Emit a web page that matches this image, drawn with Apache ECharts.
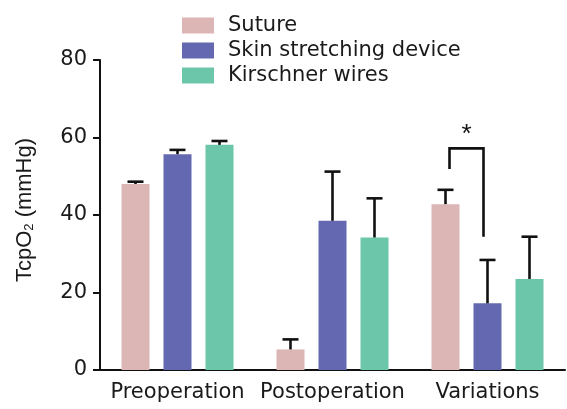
<!DOCTYPE html>
<html>
<head>
<meta charset="utf-8">
<script src="https://cdn.jsdelivr.net/npm/echarts@6/dist/echarts.min.js"></script>
<style>
html,body{margin:0;padding:0;background:#fff;}
#c{width:567px;height:409px;}
</style>
</head>
<body>
<div id="c"></div>
<script>
var categories = ['Preoperation', 'Postoperation', 'Variations'];
var seriesNames = ['Suture', 'Skin stretching device', 'Kirschner wires'];
var suture = [48.0, 5.3, 42.8];
var sutureErr = [0.6, 2.6, 3.7];
var skin = [55.7, 38.5, 17.2];
var skinErr = [1.1, 12.7, 11.2];
var kirschner = [58.1, 34.2, 23.5];
var kirschnerErr = [1.0, 10.1, 10.9];
var yTicks = [0, 20, 40, 60, 80];
// significance bracket: category, left end, top, right end (values)
var bracket = [[2, 51.9, 57.2, 34.4]];
var colors = ['#dcb5b5', '#6468b0', '#6cc6aa'];

var BAR_W = 28, GAP = 14;
var FONT = 'DejaVu Sans';

function errSeries(vals, errs, idx) {
  return {
    type: 'custom',
    silent: true,
    z: 5,
    data: vals.map(function (v, i) { return [i, v, v + errs[i]]; }),
    renderItem: function (params, api) {
      var off = (idx - 1) * (BAR_W + GAP);
      var p0 = api.coord([api.value(0), api.value(1)]);
      var p1 = api.coord([api.value(0), api.value(2)]);
      var x = p0[0] + off;
      var st = { stroke: '#111', lineWidth: 2.6 };
      return {
        type: 'group',
        children: [
          { type: 'line', shape: { x1: x, y1: p0[1], x2: x, y2: p1[1] }, style: st },
          { type: 'line', shape: { x1: x - 8, y1: p1[1], x2: x + 8, y2: p1[1] }, style: st }
        ]
      };
    }
  };
}

var chart = echarts.init(document.getElementById('c'), null, { renderer: 'canvas' });
var barSeries = [suture, skin, kirschner].map(function (d, i) {
  return {
    name: seriesNames[i],
    type: 'bar',
    data: d,
    barWidth: BAR_W,
    barGap: '50%',
    itemStyle: { color: colors[i] }
  };
});

chart.setOption({
  animation: false,
  color: colors,
  grid: { left: 100, right: 2, top: 60, bottom: 39 },
  legend: {
    data: seriesNames,
    orient: 'vertical',
    left: 177,
    top: 10,
    itemWidth: 32,
    itemHeight: 16,
    itemGap: 4,
    icon: 'rect',
    textStyle: { fontFamily: FONT, fontSize: 21, color: '#1a1a1a', lineHeight: 16, padding: [0, 0, 0, 9] }
  },
  xAxis: {
    type: 'category',
    data: categories,
    axisLine: { lineStyle: { color: '#111', width: 2 } },
    axisTick: { alignWithLabel: true, length: 8, lineStyle: { color: '#111', width: 2 } },
    axisLabel: { fontFamily: FONT, fontSize: 21, color: '#1a1a1a', margin: 12, interval: 0 }
  },
  yAxis: {
    type: 'value',
    min: 0,
    max: 80,
    interval: 20,
    name: '{a|TcpO}{b|2}{a| (mmHg)}',
    nameLocation: 'middle',
    nameGap: 64,
    nameTextStyle: {
      padding: [0, 0, 0, 10],
      rich: {
        a: { fontFamily: 'Liberation Sans', fontSize: 22, color: '#1a1a1a' },
        b: { fontFamily: 'Liberation Sans', fontSize: 13, color: '#1a1a1a', verticalAlign: 'bottom', padding: [8, 0, 0, 0] }
      }
    },
    splitLine: { show: false },
    axisLine: { show: true, lineStyle: { color: '#111', width: 2 } },
    axisTick: { show: true, length: 7, lineStyle: { color: '#111', width: 2 } },
    axisLabel: {
      fontFamily: FONT, fontSize: 21, color: '#1a1a1a', margin: 13,
      formatter: function (v) { return yTicks.indexOf(v) >= 0 ? String(v) : ''; }
    }
  },
  series: barSeries.concat([
    errSeries(suture, sutureErr, 0),
    errSeries(skin, skinErr, 1),
    errSeries(kirschner, kirschnerErr, 2),
    {
      type: 'custom',
      silent: true,
      z: 6,
      data: bracket,
      renderItem: function (params, api) {
        var c = api.value(0);
        var pl = api.coord([c, api.value(1)]);
        var pt = api.coord([c, api.value(2)]);
        var pr = api.coord([c, api.value(3)]);
        var xl = pl[0] - (BAR_W + GAP) + 4;
        var xr = pl[0] - 4;
        var st = { stroke: '#111', lineWidth: 2.6, fill: null };
        return {
          type: 'group',
          children: [
            { type: 'polyline', shape: { points: [[xl, pl[1]], [xl, pt[1]], [xr, pt[1]], [xr, pr[1]]] }, style: st },
            { type: 'text', style: { text: '*', x: (xl + xr) / 2, y: pt[1] - 1, fontFamily: 'Liberation Sans', fontSize: 26, fill: '#111', align: 'center', verticalAlign: 'bottom' } }
          ]
        };
      }
    }
  ])
});
</script>
</body>
</html>
